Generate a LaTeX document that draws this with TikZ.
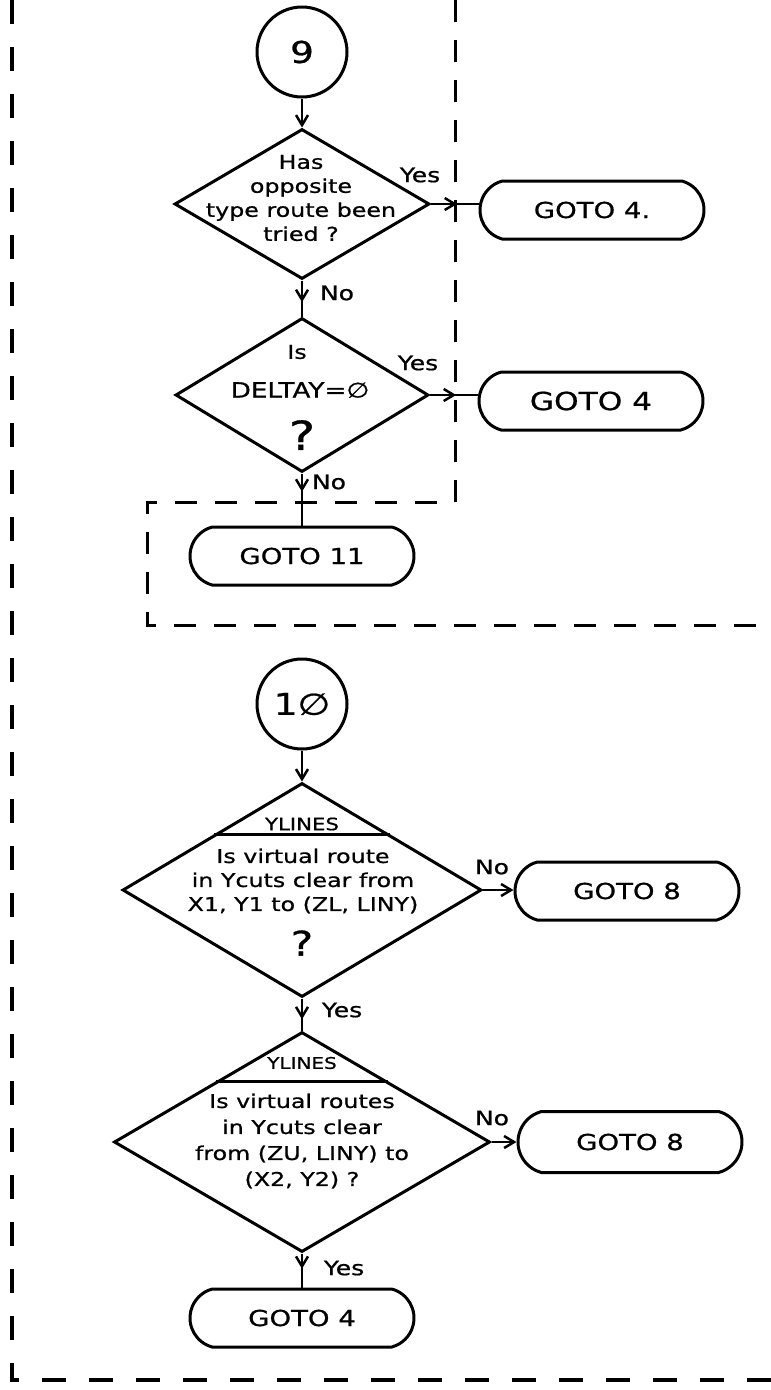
\documentclass[tikz,border=0pt]{standalone}
\usepackage{fontspec}
\setmainfont{DejaVu Sans}[FakeStretch=1.25,FakeBold=0.8]
\usetikzlibrary{shapes.geometric,shapes.misc,arrows.meta,decorations.markings,calc}
\begin{document}
\begin{tikzpicture}[x=1pt,y=-1pt,
  shape line/.style={line width=3pt},
  dia/.style={draw, diamond, shape line, inner sep=0pt},
  term/.style={draw, rounded rectangle, rounded rectangle arc length=150, shape line,
    minimum width=224pt, minimum height=58pt, inner sep=0pt, font=\fontsize{22}{22}\selectfont},
  conn/.style={draw, circle, shape line, minimum size=90pt, inner sep=0pt, font=\fontsize{30}{30}\selectfont},
  lab/.style={inner sep=0pt, font=\fontsize{20}{20}\selectfont},
  txt/.style={inner sep=0pt, align=center, font=\fontsize{19}{24}\selectfont},
  qmark/.style={inner sep=0pt, font=\fontsize{#1}{#1}\selectfont},
  flow/.style={line width=2.5pt, >={Straight Barb[length=10pt,width=12pt]}},
  midarr/.style={postaction={decorate}, decoration={markings,
    mark=at position #1 with {\arrow{Straight Barb[length=10pt,width=12pt]}}}},
  dashL/.style={line width=3.2pt, dash pattern=on 24pt off 23pt},
  dashI/.style={line width=3pt, dash pattern=on 22pt off 18pt},
  divider/.style={line width=2.6pt}]
\useasboundingbox (0,0) rectangle (771,1390);

% dashed frames
\coordinate (L0) at (12,0);
\coordinate (L1) at (12,1380);
\coordinate (L2) at (771,1380);
\draw[dashL] (L0) -- (L1) -- (L2);
\coordinate (I0) at (455,0);
\coordinate (I1) at (455,502);
\coordinate (I2) at (147,502);
\coordinate (I3) at (147,625);
\coordinate (I4) at (771,625);
\draw[dashI] (I0) -- (I1) -- (I2) -- (I3) -- (I4);

% ---- connector 9 ----
\node[conn] (c9) at (302,52) {9};
\node[dia, minimum width=255pt, minimum height=150pt] (d1) at (302,204) {};
\node[txt] (t1) at (301,198) {Has\\opposite\\type route been\\tried ?};
\node[term] (b1) at (592,210) {GOTO 4.};
\node[lab] (y1) at (420,175) {Yes};
\node[lab] (n1) at (337,293) {No};

\node[dia, minimum width=253pt, minimum height=154pt] (d2) at (302,395) {};
\node[txt] (t2a) at (297,352) {Is};
\node[txt, font=\fontsize{21}{21}\selectfont] (t2b) at (300,390) {DELTAY=∅};
\node[qmark=40] (t2c) at (302,435) {?};
\node[term, font=\fontsize{25}{25}\selectfont] (b2) at (591,401) {GOTO 4};
\node[lab] (y2) at (418,363) {Yes};
\node[lab] (n2) at (329,482) {No};

\node[term] (b3) at (302,556) {GOTO 11};

\draw[flow,->] (c9.south) -- (d1.north);
\draw[flow,midarr=0.6] (d1.south) -- (d2.north);
\draw[flow,midarr=0.55] (d1.east) -- (d1.east -| b1.west);
\draw[flow,midarr=0.55] (d2.east) -- (d2.east -| b2.west);
\draw[flow,midarr=0.35] (d2.south) -- (b3.north);

% ---- connector 10 ----
\node[conn] (c10) at (302,704) {1∅};
\node[dia, minimum width=359pt, minimum height=214pt] (d3) at (302,890) {};
\draw[divider] ($(d3.north)!0.486!(d3.west)$) -- ($(d3.north)!0.486!(d3.east)$);
\node[txt, font=\fontsize{17}{17}\selectfont] (t3a) at (302,824) {YLINES};
\node[txt] (t3b) at (303,881) {Is virtual route\\in Ycuts clear from\\X1, Y1 to (ZL, LINY)};
\node[qmark=34] (t3c) at (302,943) {?};
\node[term] (b4) at (627,891) {GOTO 8};
\node[lab] (n3) at (492,867) {No};
\node[lab] (y3) at (342,1010) {Yes};

\node[dia, minimum width=376pt, minimum height=220pt] (d4) at (302,1142) {};
\draw[divider] ($(d4.north)!0.455!(d4.west)$) -- ($(d4.north)!0.455!(d4.east)$);
\node[txt, font=\fontsize{16}{16}\selectfont] (t4a) at (302,1063) {YLINES};
\node[txt, font=\fontsize{19}{26}\selectfont] (t4b) at (302,1141) {Is virtual routes\\in Ycuts clear\\from (ZU, LINY) to\\(X2, Y2) ?};
\node[term, minimum height=61pt] (b5) at (630,1142) {GOTO 8};
\node[lab] (n4) at (492,1118) {No};
\node[lab] (y4) at (344,1268) {Yes};

\node[term] (b6) at (302,1318) {GOTO 4};

\draw[flow,->] (c10.south) -- (d3.north);
\draw[flow,->] (d3.east) -- (d3.east -| b4.west);
\draw[flow,midarr=0.65] (d3.south) -- (d4.north);
\draw[flow,->] (d4.east) -- (b5.west);
\draw[flow,midarr=0.45] (d4.south) -- (b6.north);
\end{tikzpicture}
\end{document}
